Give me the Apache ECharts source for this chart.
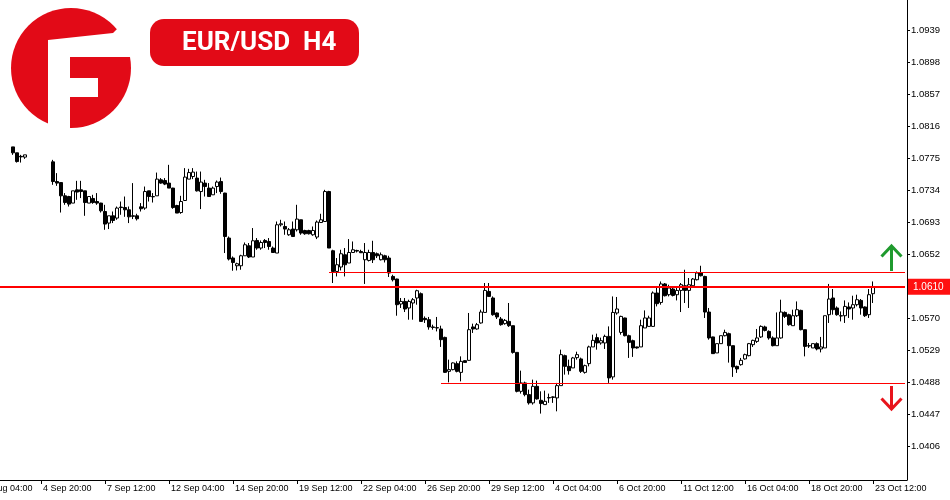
<!DOCTYPE html>
<html>
<head>
<meta charset="utf-8">
<script src="https://cdn.jsdelivr.net/npm/echarts@6/dist/echarts.min.js"></script>
<style>html,body{margin:0;padding:0;background:#fff;overflow:hidden;width:950px;height:500px}#c{width:979px;height:500px;margin-left:-29px}</style>
</head>
<body>
<div id="c"></div>
<script>
// ---- data (EUR/USD H4, bar 0 = 1 Sep 16:00) ----
const opens = [
1.07892,1.07816,1.07771,1.07761,null,null,null,null,null,null,
1.07700,1.07448,1.07435,1.07265,1.07256,1.07172,1.07342,1.07342,1.07329,1.07172,
1.07231,1.07192,1.07172,1.07064,1.06916,1.07009,1.06980,1.07121,1.07115,1.07086,
1.07009,1.07009,1.07124,1.07108,1.07329,1.07256,1.07265,1.07470,1.07461,1.07428,
1.07364,1.07141,1.07051,1.07205,1.07479,1.07512,1.07492,1.07320,1.07428,1.07364,
1.07278,1.07384,1.07448,1.07300,1.06724,1.06468,1.06369,1.06369,1.06497,1.06625,
1.06481,1.06693,1.06596,1.06693,1.06680,1.06596,1.06532,1.06894,1.06872,1.06766,
1.06839,1.06830,1.06958,1.06821,1.06821,1.06766,1.06737,1.06923,1.06936,1.07320,
1.06561,1.06296,1.06353,1.06510,1.06404,1.06539,1.06565,1.06552,1.06446,1.06437,
1.06539,1.06523,1.06446,1.06497,1.06468,1.06232,1.06199,1.05879,1.05912,1.05828,
1.05892,1.05956,1.06011,1.05695,1.05678,1.05585,1.05576,1.05559,1.05451,1.05016,
1.05038,1.05115,1.05003,1.05153,1.05157,1.05585,1.05559,1.05636,1.05771,1.06040,
1.05956,1.05764,1.05687,1.05627,1.05656,1.05601,1.05259,1.04760,1.04868,1.04718,
1.04612,1.04824,1.04645,1.04590,1.04680,1.04689,1.04676,1.04833,1.05217,1.05080,
1.05060,1.05192,1.05175,1.05003,1.05115,1.05329,1.05448,1.05380,1.05380,1.05464,
1.04945,1.05764,1.05515,1.05700,1.05473,1.05409,1.05329,1.05329,1.05572,1.05592,
1.05592,1.06020,1.05899,1.06136,1.05998,1.06071,1.05998,1.06053,1.06113,1.06053,
1.06113,1.06190,1.06276,1.06232,1.05776,1.05457,1.05252,1.05371,1.05473,1.05499,
1.05345,1.05080,1.05102,1.05175,1.05217,1.05358,1.05400,1.05457,1.05585,1.05528,
1.05444,1.05345,1.05444,1.05771,1.05742,1.05601,1.05729,1.05797,1.05550,1.05345,
1.05316,1.05371,1.05303,1.05316,1.05742,1.05956,1.05828,1.05729,1.05729,1.05841,
1.05828,1.05870,1.05925,1.05841,1.05742,1.06011
];
const closes = [
1.07816,1.07704,1.07764,1.07790,null,null,null,null,null,null,
1.07448,1.07428,1.07265,1.07179,1.07159,1.07329,1.07313,1.07320,1.07179,1.07256,
1.07179,1.07172,1.07073,1.06903,1.07009,1.06949,1.07108,1.07115,1.07086,1.06996,
1.07003,1.06971,1.07099,1.07320,1.07256,1.07252,1.07479,1.07428,1.07415,1.07364,
1.07115,1.07044,1.07192,1.07505,1.07563,1.07569,1.07329,1.07441,1.07384,1.07256,
1.07364,1.07441,1.07320,1.06744,1.06455,1.06411,1.06395,1.06497,1.06638,1.06481,
1.06689,1.06596,1.06667,1.06667,1.06616,1.06539,1.06894,1.06907,1.06839,1.06830,
1.06744,1.06967,1.06788,1.06779,1.06779,1.06821,1.06929,1.06958,1.07320,1.06596,
1.06296,1.06382,1.06523,1.06382,1.06539,1.06574,1.06557,1.06536,1.06539,1.06539,
1.06446,1.06497,1.06510,1.06446,1.06276,1.06190,1.05870,1.05912,1.05815,1.05912,
1.05934,1.06049,1.05656,1.05678,1.05585,1.05579,1.05572,1.05422,1.05003,1.05038,
1.05124,1.05016,1.05144,1.05131,1.05550,1.05559,1.05614,1.05776,1.06053,1.05976,
1.05742,1.05713,1.05614,1.05669,1.05601,1.05259,1.04760,1.04868,1.04718,1.04612,
1.04824,1.04663,1.04603,1.04632,1.04676,1.04683,1.04833,1.05230,1.05080,1.05025,
1.05188,1.05230,1.05016,1.05089,1.05329,1.05413,1.05380,1.05409,1.05464,1.04932,
1.05771,1.05815,1.05720,1.05473,1.05387,1.05316,1.05316,1.05601,1.05700,1.05700,
1.06020,1.05883,1.06136,1.05985,1.06084,1.05989,1.06053,1.06126,1.06053,1.06126,
1.06199,1.06276,1.06241,1.05776,1.05444,1.05243,1.05371,1.05473,1.05515,1.05345,
1.05073,1.05047,1.05157,1.05230,1.05371,1.05413,1.05444,1.05592,1.05541,1.05444,
1.05345,1.05444,1.05776,1.05720,1.05614,1.05729,1.05806,1.05550,1.05336,1.05341,
1.05371,1.05303,1.05329,1.05729,1.05943,1.05806,1.05742,1.05725,1.05848,1.05815,
1.05870,1.05934,1.05828,1.05729,1.05998,1.06100
];
const lows = [
1.07790,1.07691,1.07691,1.07739,null,null,null,null,null,null,
1.07406,1.07393,1.07051,1.07150,1.07128,1.07172,1.07214,1.07236,1.07009,1.07172,
1.07163,1.07150,1.07051,1.06830,1.06839,1.06916,1.06958,1.07022,1.06996,1.06916,
1.06967,1.06949,1.07064,1.07086,1.07192,1.07179,1.07265,1.07419,1.07402,1.07364,
1.07099,1.07044,1.07035,1.07205,1.07479,1.07479,1.07320,1.07095,1.07256,1.07256,
1.07278,1.07300,1.07291,1.06532,1.06437,1.06305,1.06309,1.06318,1.06497,1.06468,
1.06481,1.06574,1.06574,1.06596,1.06574,1.06539,1.06532,1.06872,1.06766,1.06753,
1.06737,1.06808,1.06766,1.06766,1.06770,1.06753,1.06711,1.06923,1.06936,1.06596,
1.06148,1.06232,1.06309,1.06232,1.06404,1.06539,1.06539,1.06532,1.06136,1.06424,
1.06404,1.06468,1.06437,1.06411,1.06225,1.06168,1.05729,1.05828,1.05776,1.05678,
1.05678,1.05870,1.05656,1.05636,1.05550,1.05550,1.05528,1.05329,1.04996,1.04875,
1.05029,1.05003,1.04888,1.05128,1.05153,1.05508,1.05550,1.05627,1.05771,1.05976,
1.05729,1.05687,1.05601,1.05614,1.05585,1.05243,1.04747,1.04731,1.04696,1.04590,
1.04590,1.04654,1.04475,1.04590,1.04612,1.04612,1.04504,1.04833,1.04974,1.04974,
1.05060,1.05166,1.04996,1.04987,1.05080,1.05329,1.05294,1.05358,1.05303,1.04868,
1.04910,1.05742,1.05486,1.05464,1.05188,1.05201,1.05307,1.05329,1.05572,1.05592,
1.05585,1.05848,1.05870,1.05976,1.05976,1.05976,1.05925,1.05776,1.05892,1.05828,
1.06104,1.06181,1.06232,1.05700,1.05422,1.05243,1.05252,1.05371,1.05464,1.05128,
1.04945,1.04996,1.05089,1.05166,1.05208,1.05329,1.05380,1.05444,1.05528,1.05422,
1.05336,1.05345,1.05435,1.05700,1.05601,1.05601,1.05713,1.05541,1.05208,1.05316,
1.05316,1.05285,1.05259,1.05316,1.05636,1.05742,1.05729,1.05656,1.05636,1.05700,
1.05678,1.05848,1.05742,1.05713,1.05700,1.05892
];
const highs = [
1.07892,1.07816,1.07790,1.07790,null,null,null,null,null,null,
1.07726,1.07556,1.07435,1.07300,1.07265,1.07329,1.07457,1.07457,1.07329,1.07256,
1.07278,1.07300,1.07176,1.07150,1.07009,1.07064,1.07128,1.07192,1.07256,1.07128,
1.07428,1.07035,1.07172,1.07384,1.07329,1.07300,1.07563,1.07492,1.07492,1.07662,
1.07368,1.07150,1.07265,1.07620,1.07611,1.07620,1.07576,1.07576,1.07470,1.07428,
1.07384,1.07461,1.07499,1.07304,1.06744,1.06488,1.06408,1.06510,1.06667,1.06660,
1.06852,1.06724,1.06693,1.06711,1.06724,1.06616,1.06936,1.06958,1.06936,1.06852,
1.06936,1.07150,1.06958,1.06830,1.06830,1.06872,1.06949,1.07035,1.07342,1.07329,
1.06574,1.06468,1.06574,1.06596,1.06711,1.06680,1.06574,1.06574,1.06660,1.06574,
1.06689,1.06539,1.06539,1.06510,1.06497,1.06254,1.06203,1.05956,1.05956,1.05934,
1.05956,1.06062,1.06027,1.05720,1.05713,1.05614,1.05713,1.05601,1.05460,1.05166,
1.05131,1.05144,1.05208,1.05157,1.05764,1.05627,1.05636,1.05806,1.06148,1.06148,
1.05976,1.05771,1.05713,1.05687,1.05892,1.05601,1.05259,1.05025,1.04884,1.04782,
1.04910,1.04897,1.04760,1.04769,1.04731,1.04696,1.04868,1.05294,1.05230,1.05166,
1.05201,1.05268,1.05192,1.05102,1.05345,1.05486,1.05499,1.05448,1.05486,1.05592,
1.05976,1.05969,1.05729,1.05704,1.05486,1.05422,1.05332,1.05678,1.05797,1.05729,
1.06040,1.06084,1.06168,1.06148,1.06126,1.06084,1.06084,1.06148,1.06318,1.06212,
1.06212,1.06296,1.06369,1.06241,1.05828,1.05460,1.05371,1.05473,1.05550,1.05512,
1.05345,1.05089,1.05188,1.05243,1.05380,1.05422,1.05559,1.05605,1.05601,1.05541,
1.05464,1.05771,1.05934,1.05784,1.05755,1.05806,1.05912,1.05806,1.05550,1.05380,
1.05371,1.05387,1.05457,1.05729,1.06136,1.06071,1.05848,1.05784,1.05925,1.05899,
1.05985,1.05998,1.05943,1.05848,1.06071,1.06168
];
// horizontal levels
const resistanceLevel = 1.0629, resistanceStartBar = 79;
const supportLevel = 1.0487, supportStartBar = 107;
const currentPrice = 1.0610;
// axis labels
const yTickLabels = ["1.0406","1.0447","1.0488","1.0529","1.0570","1.0652","1.0693","1.0734","1.0775","1.0816","1.0857","1.0898","1.0939"];
const xTickLabels = ["31 Aug 04:00","4 Sep 20:00","7 Sep 12:00","12 Sep 04:00","14 Sep 20:00","19 Sep 12:00","22 Sep 04:00","26 Sep 20:00","29 Sep 12:00","4 Oct 04:00","6 Oct 20:00","11 Oct 12:00","16 Oct 04:00","18 Oct 20:00","23 Oct 12:00"];
const titleText = "EUR/USD  H4";

// ---- categories: H4 bars Mon-Fri from 31 Aug 00:00 (10 bars before bar 0), 8 empty bars after the last ----
const LEAD = 10, TRAIL = 8;
const MONTHS = ["Jan","Feb","Mar","Apr","May","Jun","Jul","Aug","Sep","Oct","Nov","Dec"];
const categories = [];
(function(){
  let t = Date.UTC(2023, 7, 31, 0, 0);
  const total = LEAD + opens.length + TRAIL;
  while (categories.length < total) {
    const d = new Date(t), wd = d.getUTCDay();
    if (wd !== 0 && wd !== 6) {
      const hh = String(d.getUTCHours()).padStart(2, "0");
      categories.push(d.getUTCDate() + " " + MONTHS[d.getUTCMonth()] + " " + hh + ":00");
    }
    t += 4 * 3600 * 1000;
  }
})();
const xTickSet = new Set(xTickLabels);
const ohlc = [];
for (let k = 0; k < LEAD; k++) ohlc.push(["-","-","-","-"]);
for (let i = 0; i < opens.length; i++) {
  if (opens[i] == null) ohlc.push(["-","-","-","-"]);
  else ohlc.push([opens[i], closes[i], lows[i], highs[i]]);
}
for (let k = 0; k < TRAIL; k++) ohlc.push(["-","-","-","-"]);
const lastCat = categories[categories.length - 1];

const RED = "#ff0000", LOGO_RED = "#e20a17";
const LINE = {color: RED, width: 1, type: "solid"};
const PRICE_LINE = {color: RED, width: 2, type: "solid"};
const OX = 29; // the canvas starts 29px left of the page edge
const chart = echarts.init(document.getElementById("c"), null, {renderer: "canvas"});
chart.setOption({
  animation: false,
  backgroundColor: "#ffffff",
  grid: {left: 0, right: 43, top: 0, bottom: 20, containLabel: false},
  xAxis: {
    type: "category", data: categories, boundaryGap: true,
    axisLine: {show: true, lineStyle: {color: "#000", width: 1}},
    axisTick: {show: true, alignWithLabel: true, length: 4, lineStyle: {color: "#000"},
      interval: (idx, val) => xTickSet.has(val)},
    axisLabel: {show: true, interval: (idx, val) => xTickSet.has(val), align: "left",
      margin: 4, color: "#000", fontFamily: "Liberation Sans", fontSize: 9, padding: [0,0,0,2]},
    splitLine: {show: false}
  },
  yAxis: {
    type: "value", position: "right", min: 1.03624, max: 1.09774, scale: true,
    axisLine: {show: true, onZero: false, lineStyle: {color: "#000", width: 1}},
    axisTick: {show: true, length: 3, inside: false, lineStyle: {color: "#000"},
      customValues: yTickLabels.map(Number)},
    axisLabel: {show: true, customValues: yTickLabels.map(Number), margin: 4, color: "#000",
      fontFamily: "Liberation Sans", fontSize: 9.5, formatter: v => Number(v).toFixed(4)},
    splitLine: {show: false}
  },
  series: [{
    type: "candlestick", data: ohlc, barWidth: 3,
    itemStyle: {color: "#ffffff", color0: "#000000", borderColor: "#000000", borderColor0: "#000000", borderWidth: 1},
    markLine: {
      symbol: ["none", "none"], silent: true, animation: false,
      lineStyle: LINE,
      data: [
        [{coord: [categories[LEAD + resistanceStartBar], resistanceLevel], lineStyle: LINE},
         {coord: [lastCat, resistanceLevel], lineStyle: LINE}],
        [{coord: [categories[LEAD + supportStartBar], supportLevel], lineStyle: LINE},
         {coord: [lastCat, supportLevel], lineStyle: LINE}],
        [{coord: [categories[0], currentPrice], lineStyle: PRICE_LINE,
          label: {show: true, position: "end", distance: 3,
          formatter: () => currentPrice.toFixed(4), color: "#fff", backgroundColor: "#ff1010",
          padding: [3, 8, 3, 5], fontFamily: "Liberation Sans", fontSize: 10}},
         {coord: [lastCat, currentPrice], lineStyle: PRICE_LINE}]
      ],
      label: {show: false}
    }
  }],
  graphic: [
    // logo
    {type: "circle", shape: {cx: OX + 71, cy: 68, r: 60}, style: {fill: LOGO_RED}, z: 10},
    {type: "polygon", shape: {points: [[48,40],[113,33],[119,27],[140,27],[140,57],[70,57],[70,78],[98,78],[98,97],[70,97],[70,135],[48,135]].map(p => [p[0] + OX, p[1]])},
      style: {fill: "#fff"}, z: 11},
    // title badge
    {type: "rect", shape: {x: OX + 150, y: 19, width: 209, height: 47, r: 14}, style: {fill: LOGO_RED}, z: 10},
    {type: "text", x: OX + 182, y: 43, style: {text: titleText, fill: "#fff", font: "bold 26px Roboto", verticalAlign: "middle"}, z: 11},
    // green up arrow
    {type: "polyline", shape: {points: [[OX + 891.5,271],[OX + 891.5,247]]}, style: {stroke: "#1f9a2e", lineWidth: 3}, z: 10},
    {type: "polyline", shape: {points: [[OX + 881.5,256.5],[OX + 891.5,246],[OX + 901.5,256.5]]}, style: {stroke: "#1f9a2e", lineWidth: 3, fill: null}, z: 10},
    // red down arrow
    {type: "polyline", shape: {points: [[OX + 891.5,386],[OX + 891.5,409]]}, style: {stroke: "#e8141c", lineWidth: 3}, z: 10},
    {type: "polyline", shape: {points: [[OX + 881.5,398.5],[OX + 891.5,409],[OX + 901.5,398.5]]}, style: {stroke: "#e8141c", lineWidth: 3, fill: null}, z: 10}
  ]
});
</script>
</body>
</html>
